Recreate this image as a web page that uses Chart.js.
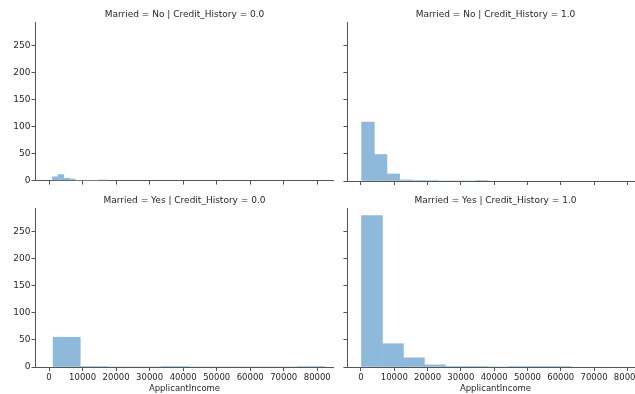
<!DOCTYPE html>
<html>
<head>
<meta charset="utf-8">
<script src="https://cdn.jsdelivr.net/npm/chart.js@4"></script>
<style>
  html, body { margin: 0; padding: 0; background: #fff; overflow: hidden; width: 635px; height: 394px; }
  canvas { position: absolute; }
</style>
</head>
<body>
<canvas id="c0"></canvas>
<canvas id="c1"></canvas>
<canvas id="c2"></canvas>
<canvas id="c3"></canvas>
<script>
// tick labels
const xTicks = [0, 10000, 20000, 30000, 40000, 50000, 60000, 70000, 80000];
const yTicks = [0, 50, 100, 150, 200, 250];

const panelTitles = [
    'Married = No | Credit_History = 0.0',
    'Married = No | Credit_History = 1.0',
    'Married = Yes | Credit_History = 0.0',
    'Married = Yes | Credit_History = 1.0'
];

// bin edges + counts for each facet
const noCh0Edges = [1000, 2700, 4400, 6100, 7800, 9500, 11200, 12900, 14600, 16300, 18000];
const noCh0Counts = [7, 11, 4, 3, 0, 0, 0, 0, 1, 1];

const noCh1Edges = [200, 4000, 7800, 11600, 15400, 19200, 23000, 26800, 30600, 34400, 38200];
const noCh1Counts = [109, 49, 13, 2, 1, 1, 0, 0, 0, 1];

const yesCh0Edges = [1200, 9300, 17400, 25500, 33600, 41700, 49800, 57900, 66000, 74100, 82200];
const yesCh0Counts = [55, 1, 0, 0, 1, 0, 0, 0, 0, 1];

const yesCh1Edges = [150, 6450, 12750, 19050, 25350, 31650, 37950, 44250, 50550, 56850, 63150];
const yesCh1Counts = [280, 43, 17, 4, 1, 1, 0, 1, 1, 1];

const barColor = 'rgb(143, 185, 218)';
const axisColor = '#555';
const textColor = '#262626';
const fontFamily = '"DejaVu Sans", sans-serif';

// canvas placement (left col / right col, top row / bottom row)
const panels = [
    { id: 'c0', edges: noCh0Edges, counts: noCh0Counts, left: 0, top: 0, w: 334, h: 187, yw: 35, xh: 6, yLabels: true, xLabels: false, titlePad: { top: 9.6, bottom: 1.6 } },
    { id: 'c1', edges: noCh1Edges, counts: noCh1Counts, left: 340, top: 0, w: 304, h: 187, yw: 7, xh: 6, yLabels: false, xLabels: false, titlePad: { top: 9.6, bottom: 1.6 } },
    { id: 'c2', edges: yesCh0Edges, counts: yesCh0Counts, left: 0, top: 190, w: 334, h: 204, yw: 35, xh: 27, yLabels: true, xLabels: true, titlePad: { top: 5.6, bottom: 1.6 } },
    { id: 'c3', edges: yesCh1Edges, counts: yesCh1Counts, left: 340, top: 190, w: 304, h: 204, yw: 7, xh: 27, yLabels: false, xLabels: true, titlePad: { top: 5.6, bottom: 1.6 } }
];

panels.forEach((p, i) => {
    const canvas = document.getElementById(p.id);
    canvas.width = p.w;
    canvas.height = p.h;
    canvas.style.left = p.left + 'px';
    canvas.style.top = p.top + 'px';
    canvas.style.width = p.w + 'px';
    canvas.style.height = p.h + 'px';

    const points = p.counts.map((c, k) => ({ x: (p.edges[k] + p.edges[k + 1]) / 2, y: c }));

    // eslint-disable-next-line no-undef
    new Chart(canvas.getContext('2d'), {
        type: 'bar',
        data: {
            datasets: [{
                data: points,
                backgroundColor: barColor,
                borderWidth: 0,
                barPercentage: 1,
                categoryPercentage: 1
            }]
        },
        options: {
            responsive: false,
            animation: false,
            layout: { padding: 0 },
            plugins: {
                legend: { display: false },
                tooltip: { enabled: false },
                title: {
                    display: true,
                    text: panelTitles[i],
                    fullSize: false,
                    color: textColor,
                    font: { family: fontFamily, size: 9, weight: 'normal', lineHeight: 1.2 },
                    padding: p.titlePad
                }
            },
            scales: {
                x: {
                    type: 'linear',
                    offset: false,
                    min: -4200,
                    max: 85000,
                    afterBuildTicks: s => { s.ticks = xTicks.map(v => ({ value: v })); },
                    afterFit: s => { s.height = p.xh; },
                    grid: { offset: false, drawOnChartArea: false, drawTicks: true, tickLength: 4, color: axisColor },
                    border: { display: true, color: axisColor, width: 1 },
                    ticks: {
                        display: p.xLabels,
                        maxRotation: 0,
                        autoSkip: false,
                        padding: 2,
                        color: textColor,
                        font: { family: fontFamily, size: 8.5 },
                        callback: v => String(v)
                    },
                    title: {
                        display: p.xLabels,
                        text: 'ApplicantIncome',
                        color: textColor,
                        font: { family: fontFamily, size: 8.5 },
                        padding: { top: 0, bottom: 0 }
                    }
                },
                y: {
                    min: 0,
                    max: 294,
                    afterBuildTicks: s => { s.ticks = yTicks.map(v => ({ value: v })); },
                    afterFit: s => { s.width = p.yw; },
                    grid: { drawOnChartArea: false, drawTicks: true, tickLength: 3.5, color: axisColor },
                    border: { display: true, color: axisColor, width: 1 },
                    ticks: {
                        display: p.yLabels,
                        padding: 1,
                        color: textColor,
                        font: { family: fontFamily, size: 9 }
                    }
                }
            }
        }
    });
});
</script>
</body>
</html>
